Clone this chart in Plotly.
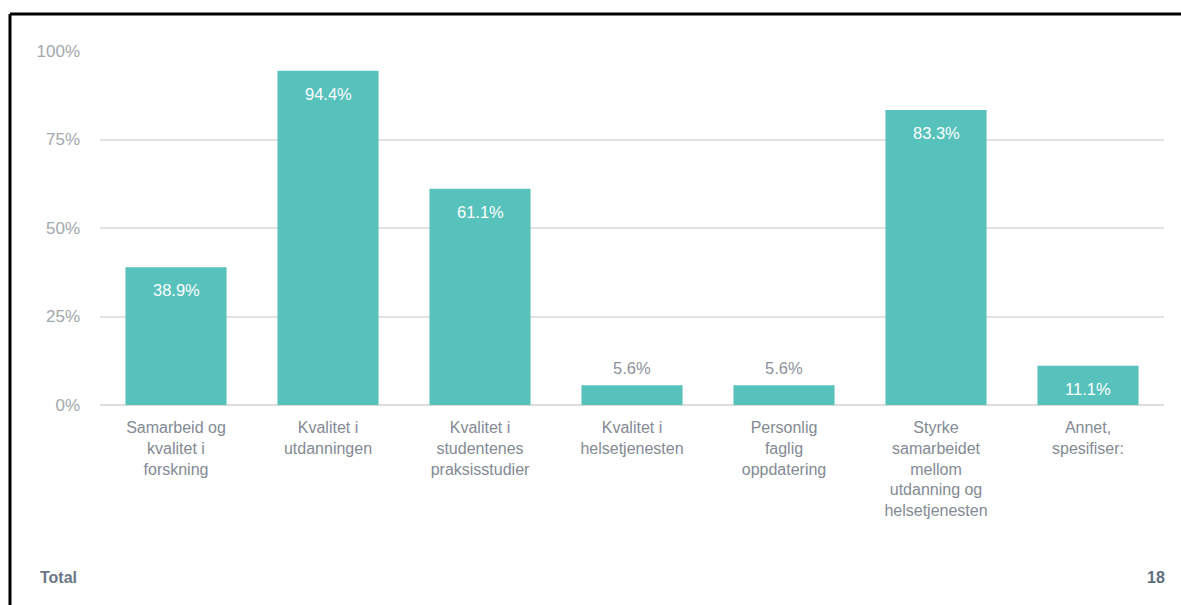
import plotly.graph_objects as go

# Survey answers: share of respondents choosing each option
categories = [
    "Samarbeid og<br>kvalitet i<br>forskning",
    "Kvalitet i<br>utdanningen",
    "Kvalitet i<br>studentenes<br>praksisstudier",
    "Kvalitet i<br>helsetjenesten",
    "Personlig<br>faglig<br>oppdatering",
    "Styrke<br>samarbeidet<br>mellom<br>utdanning og<br>helsetjenesten",
    "Annet,<br>spesifiser:",
]
shares = [38.9, 94.4, 61.1, 5.6, 5.6, 83.3, 11.1]
y_ticks = [0, 25, 50, 75, 100]
y_tick_labels = ["0%", "25%", "50%", "75%", "100%"]
total_label = "Total"
total_count = 18

BAR = "#57c1bc"
FONT = "Liberation Sans, Arial, sans-serif"

fig = go.Figure(
    go.Bar(
        x=categories,
        y=shares,
        marker=dict(color=BAR, line=dict(width=0)),
        hoverinfo="skip",
    )
)

# value labels: white inside tall bars, grey above short ones
annotations = []
for cat, val in zip(categories, shares):
    inside = val >= 10
    annotations.append(dict(
        x=cat, y=val, xref="x", yref="y",
        text=f"{val:.1f}%",
        showarrow=False,
        yanchor="top" if inside else "bottom",
        yshift=-12 if inside else 6,
        font=dict(family=FONT, size=16.5, color="#ffffff" if inside else "#8c939c"),
    ))

# footer row
annotations.append(dict(
    x=-0.0583, y=-0.486, xref="paper", yref="paper",
    text=f"<b>{total_label}</b>", showarrow=False,
    xanchor="left", yanchor="middle",
    font=dict(family=FONT, size=16, color="#6b7684"),
))
annotations.append(dict(
    x=1.003, y=-0.486, xref="paper", yref="paper",
    text=f"<b>{total_count}</b>", showarrow=False,
    xanchor="right", yanchor="middle",
    font=dict(family=FONT, size=16, color="#5f6f80"),
))

# black frame along the top and left edges
shapes = [
    dict(type="line", xref="paper", yref="paper",
         x0=-0.0846, x1=1.03, y0=1.1045, y1=1.1045,
         line=dict(color="#000000", width=3)),
    dict(type="line", xref="paper", yref="paper",
         x0=-0.0846, x1=-0.0846, y0=1.1045, y1=-0.6,
         line=dict(color="#000000", width=3)),
]

fig.update_layout(
    width=1181,
    height=605,
    margin=dict(l=100, r=17, t=51, b=200),
    paper_bgcolor="#ffffff",
    plot_bgcolor="#ffffff",
    bargap=0.335,
    showlegend=False,
    font=dict(family=FONT),
    annotations=annotations,
    shapes=shapes,
    xaxis=dict(
        showgrid=False,
        showline=False,
        zeroline=False,
        ticks="",
        tickfont=dict(family=FONT, size=16, color="#838a94"),
        ticklabelstandoff=11,
        fixedrange=True,
    ),
    yaxis=dict(
        range=[0, 100],
        tickvals=y_ticks,
        ticktext=y_tick_labels,
        showgrid=True,
        gridcolor="#e2e2e2",
        gridwidth=2,
        zeroline=True,
        zerolinecolor="#dcdcdc",
        zerolinewidth=2,
        showline=False,
        ticks="",
        ticklabelstandoff=19,
        tickfont=dict(family=FONT, size=17, color="#a3a7ad"),
        fixedrange=True,
    ),
)

fig.write_html("out.html")
